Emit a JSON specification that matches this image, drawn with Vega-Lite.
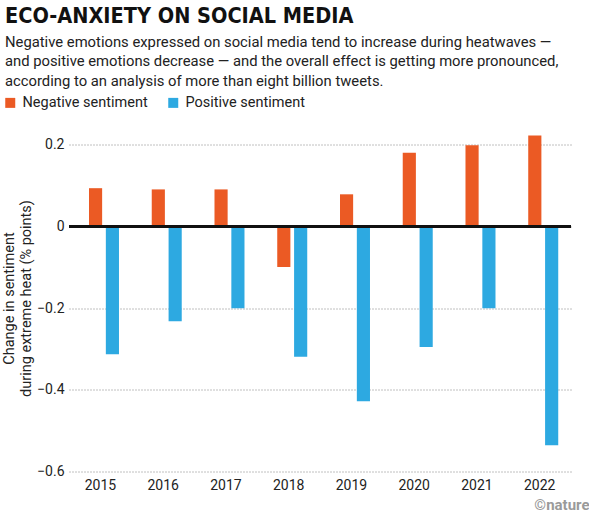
{
  "$schema": "https://vega.github.io/schema/vega-lite/v6.json",
  "width": 502,
  "height": 347,
  "autosize": {"type": "none"},
  "padding": {"left": 69, "top": 124.5, "right": 18, "bottom": 49.5},
  "title": {
    "text": "ECO-ANXIETY ON SOCIAL MEDIA",
    "subtitle": [
      "Negative emotions expressed on social media tend to increase during heatwaves —",
      "and positive emotions decrease — and the overall effect is getting more pronounced,",
      "according to an analysis of more than eight billion tweets."
    ],
    "anchor": "start",
    "frame": "group",
    "dx": -64,
    "offset": 7,
    "font": "DejaVu Sans Condensed, Roboto, sans-serif",
    "fontSize": 21.5,
    "fontWeight": "bold",
    "color": "#111111",
    "subtitleFont": "Roboto",
    "subtitleFontSize": 14.8,
    "subtitleLineHeight": 19.5,
    "subtitleColor": "#222222",
    "subtitlePadding": 7
  },
  "data": {
    "values": [
      {"year": "2015", "sentiment": "Negative sentiment", "change": 0.094},
      {"year": "2015", "sentiment": "Positive sentiment", "change": -0.313},
      {"year": "2016", "sentiment": "Negative sentiment", "change": 0.091},
      {"year": "2016", "sentiment": "Positive sentiment", "change": -0.232},
      {"year": "2017", "sentiment": "Negative sentiment", "change": 0.091},
      {"year": "2017", "sentiment": "Positive sentiment", "change": -0.2},
      {"year": "2018", "sentiment": "Negative sentiment", "change": -0.099},
      {"year": "2018", "sentiment": "Positive sentiment", "change": -0.319},
      {"year": "2019", "sentiment": "Negative sentiment", "change": 0.079},
      {"year": "2019", "sentiment": "Positive sentiment", "change": -0.428},
      {"year": "2020", "sentiment": "Negative sentiment", "change": 0.181},
      {"year": "2020", "sentiment": "Positive sentiment", "change": -0.295},
      {"year": "2021", "sentiment": "Negative sentiment", "change": 0.199},
      {"year": "2021", "sentiment": "Positive sentiment", "change": -0.2},
      {"year": "2022", "sentiment": "Negative sentiment", "change": 0.223},
      {"year": "2022", "sentiment": "Positive sentiment", "change": -0.536}
    ]
  },
  "layer": [
    {
      "mark": {"type": "bar"},
      "encoding": {
        "x": {
          "field": "year",
          "type": "ordinal",
          "scale": {"paddingInner": 0.5, "paddingOuter": 0.25},
          "axis": {
            "title": "©nature",
            "titleAnchor": "end",
            "titleAlign": "right",
            "titleX": 520,
            "titleY": 26,
            "titleFont": "Roboto",
            "titleFontSize": 15,
            "titleFontWeight": "bold",
            "titleColor": "#9a9a9a",
            "labelAngle": 0,
            "labelFont": "Roboto",
            "labelFontSize": 14,
            "labelColor": "#222222",
            "labelPadding": 7,
            "ticks": false,
            "domain": false,
            "grid": false
          }
        },
        "xOffset": {
          "field": "sentiment",
          "type": "nominal",
          "scale": {"range": [4.3, 34.3], "paddingInner": 0.22}
        },
        "y": {
          "field": "change",
          "type": "quantitative",
          "scale": {"domain": [-0.6, 0.25], "nice": false},
          "axis": {
            "title": ["Change in sentiment", "during extreme heat (% points)"],
            "titleFont": "Roboto",
            "titleFontSize": 14.5,
            "titleFontWeight": "normal",
            "titleColor": "#222222",
            "titleLineHeight": 17,
            "titlePadding": 3,
            "values": [-0.6, -0.4, -0.2, 0, 0.2],
            "format": ".1~f",
            "labelFont": "Roboto",
            "labelFontSize": 14,
            "labelColor": "#222222",
            "labelPadding": 5,
            "ticks": false,
            "domain": false,
            "grid": true,
            "gridColor": "#808080",
            "gridDash": [1, 2],
            "gridWidth": 1
          }
        },
        "color": {
          "field": "sentiment",
          "type": "nominal",
          "scale": {
            "domain": ["Negative sentiment", "Positive sentiment"],
            "range": ["#eb5a24", "#2da9e1"]
          },
          "legend": {
            "title": null,
            "orient": "none",
            "direction": "horizontal",
            "legendX": -66,
            "legendY": -29,
            "symbolType": "square",
            "symbolSize": 100,
            "symbolStrokeWidth": 0,
            "labelFont": "Roboto",
            "labelFontSize": 14.5,
            "labelColor": "#222222",
            "labelOffset": 5,
            "columnPadding": 18
          }
        }
      }
    },
    {
      "mark": {"type": "rule", "color": "#111111", "strokeWidth": 2},
      "encoding": {"y": {"datum": 0}}
    }
  ],
  "config": {
    "view": {"stroke": null},
    "background": "white"
  }
}
